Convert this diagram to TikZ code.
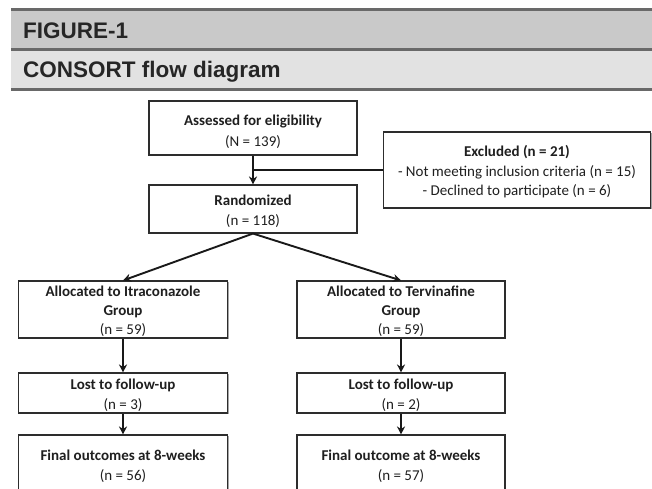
\documentclass[tikz,border=0pt]{standalone}
\usepackage{fontspec}
\setmainfont{Carlito}
\newfontfamily\headfont{Liberation Sans}
\usetikzlibrary{arrows.meta,shadows}
\definecolor{bandA}{RGB}{201,201,201}
\definecolor{bandB}{RGB}{226,226,226}
\definecolor{rulegray}{RGB}{105,105,105}
\definecolor{boxline}{RGB}{45,45,45}
\newcommand{\bxt}[1]{\raisebox{-2.5pt}[\height][\depth]{\begin{tabular}{@{}c@{}}#1\end{tabular}}}
\tikzset{
  flowbox/.style={draw=boxline, line width=1.1pt, fill=white, rectangle,
    inner sep=0pt, font=\fontsize{15}{20}\selectfont, text=black!88,
    drop shadow={shadow xshift=1.2pt, shadow yshift=-1.2pt, opacity=0.35, fill=black}},
  arr/.style={draw=black!90, line width=1.9pt, -{Stealth[length=8pt,width=8pt]}},
  plainline/.style={draw=black!90, line width=1.9pt},
  bandrule/.style={draw=rulegray, line width=2.3pt},
  headtext/.style={anchor=base west, inner sep=0pt, font=\headfont\bfseries\fontsize{22.5}{26}\selectfont, text=black!85}
}
\begin{document}
\begin{tikzpicture}[x=1pt,y=-1pt]
\useasboundingbox (0,0) rectangle (652,488);
% header bands
\fill[bandA] (11,9.5) rectangle (652,49.5);
\fill[bandB] (11,49.5) rectangle (652,89.5);
\draw[bandrule] (11,9.5) -- (652,9.5);
\draw[bandrule] (11,49.5) -- (652,49.5);
\draw[bandrule] (11,89.5) -- (652,89.5);
\node[headtext] (fig) at (23,38) {FIGURE-1};
\node[headtext] (title) at (23,77) {CONSORT flow diagram};
% boxes
\node[flowbox, minimum width=208pt, minimum height=54pt, font=\fontsize{15}{21}\selectfont] (assess) at (253,128)
  {\raisebox{-1pt}[\height][\depth]{\bxt{\textbf{Assessed for eligibility}\\(N = 139)}}};
\node[flowbox, minimum width=208pt, minimum height=48pt] (rand) at (253,209)
  {\bxt{\textbf{Randomized}\\(n = 118)}};
\node[flowbox, minimum width=267pt, minimum height=76pt, font=\fontsize{15}{19.5}\selectfont] (excl) at (517,170)
  {\bxt{\textbf{Excluded (n = 21)}\\- Not meeting inclusion criteria (n = 15)\\- Declined to participate (n = 6)}};
\node[flowbox, minimum width=209pt, minimum height=55pt, font=\fontsize{15}{19}\selectfont] (allocL) at (123,309.5)
  {\bxt{\textbf{Allocated to Itraconazole}\\\textbf{Group}\\(n = 59)}};
\node[flowbox, minimum width=208pt, minimum height=55pt, font=\fontsize{15}{19}\selectfont] (allocR) at (401,309.5)
  {\bxt{\textbf{Allocated to Tervinafine}\\\textbf{Group}\\(n = 59)}};
\node[flowbox, minimum width=209pt, minimum height=40pt] (lostL) at (123,393)
  {\bxt{\textbf{Lost to follow-up}\\(n = 3)}};
\node[flowbox, minimum width=208pt, minimum height=40pt] (lostR) at (401,393)
  {\bxt{\textbf{Lost to follow-up}\\(n = 2)}};
\node[flowbox, minimum width=209pt, minimum height=58pt] (finL) at (123,464)
  {\bxt{\textbf{Final outcomes at 8-weeks}\\(n = 56)}};
\node[flowbox, minimum width=208pt, minimum height=58pt] (finR) at (401,464)
  {\bxt{\textbf{Final outcome at 8-weeks}\\(n = 57)}};
% connectors
\draw[arr] (assess.south) -- (rand.north);
\draw[plainline] (excl.west) -- (assess.south |- excl.west);
\draw[arr] (rand.south) -- (allocL.north);
\draw[arr] (rand.south) -- (allocR.north);
\draw[arr] (allocL.south) -- (lostL.north);
\draw[arr] (allocR.south) -- (lostR.north);
\draw[arr] (lostL.south) -- (finL.north);
\draw[arr] (lostR.south) -- (finR.north);
\end{tikzpicture}
\end{document}
